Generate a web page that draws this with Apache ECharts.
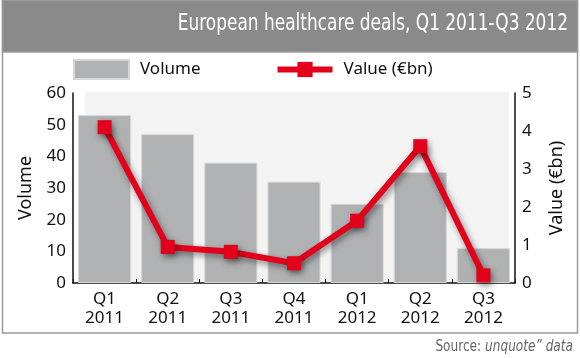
<!DOCTYPE html>
<html><head><meta charset="utf-8">
<script src="https://cdn.jsdelivr.net/npm/echarts@6/dist/echarts.min.js"></script>
<style>html,body{margin:0;padding:0;background:#fff}#c{width:580px;height:358px}</style>
</head><body><div id="c"></div>
<script>
var categories = ['Q1\n2011','Q2\n2011','Q3\n2011','Q4\n2011','Q1\n2012','Q2\n2012','Q3\n2012'];
var volume = [53, 47, 38, 32, 25, 35, 11];
var valueBn = [4.1, 0.95, 0.82, 0.52, 1.64, 3.6, 0.2];
var leftTicks = [0, 10, 20, 30, 40, 50, 60];
var rightTicks = [0, 1, 2, 3, 4, 5];

var FONT = '"Noto Sans", sans-serif';
var NARROW = '"DejaVu Sans Condensed", sans-serif';
var chart = echarts.init(document.getElementById('c'), null, {renderer:'canvas'});
chart.setOption({
  animation: false,
  graphic: [
    {type:'rect', shape:{x:2.5,y:0.5,width:575,height:332.5}, style:{fill:'#fff', stroke:'#9a9a9a', lineWidth:1.5}, z:-10},
    {type:'rect', shape:{x:2.5,y:0.5,width:575,height:51.5}, style:{fill:'#8a8a8b', stroke:'#9a9a9a', lineWidth:1.5}, z:-9},
    {type:'text', x:568, y:13, scaleX:0.82, style:{x:0, y:0, textAlign:'right', text:'European healthcare deals, Q1 2011-Q3 2012', fill:'#fff', font:'23px ' + NARROW}},
    {type:'rect', shape:{x:85,y:92,width:424,height:191}, style:{fill:'#f3f3f3'}, z:-5},
    {type:'text', x:573, y:340, scaleX:0.9, style:{x:0, y:0, textAlign:'right', rich:{a:{fill:'#666', font:'15px ' + NARROW}, b:{fill:'#666', font:'italic 15px ' + NARROW}}, text:'{a|Source: }{b|unquote\u201d data}'}}
  ],
  legend: {
    left: 73, top: 59, padding: 0, itemWidth: 55, itemHeight: 19, itemGap: 74,
    textStyle: {fontFamily: FONT, fontSize: 17, color:'#111', padding:[0,0,0,6]},
    data: [
      {name:'Volume', icon:'rect'},
      {name:'Value (\u20acbn)', lineStyle:{width:6, color:'#e2001a'}}
    ]
  },
  grid: {left:73, right:65, top:93, bottom:75},
  xAxis: {
    type:'category', data: categories,
    axisLine:{lineStyle:{color:'#111', width:1.5}},
    axisTick:{show:true, inside:true, length:4, lineStyle:{color:'#111'}},
    axisLabel:{fontFamily:FONT, fontSize:17, color:'#111', lineHeight:19, margin:7}
  },
  yAxis: [
    {type:'value', min:0, max:60, interval:10, name:'Volume', nameLocation:'middle', nameGap:38, nameRotate:90,
     nameTextStyle:{fontFamily:FONT, fontSize:18, color:'#111'},
     axisLine:{show:true, lineStyle:{color:'#111', width:1.5}}, axisTick:{show:false}, splitLine:{show:false},
     axisLabel:{fontFamily:FONT, fontSize:17, color:'#111', margin:7, formatter:function(v){return leftTicks.indexOf(v)>=0?String(v):'';}}},
    {type:'value', min:0, max:5, interval:1, name:'Value (\u20acbn)', nameLocation:'middle', nameGap:33, nameRotate:90,
     nameTextStyle:{fontFamily:FONT, fontSize:18, color:'#111'},
     axisLine:{show:true, lineStyle:{color:'#111', width:1.5}}, axisTick:{show:false}, splitLine:{show:false},
     axisLabel:{fontFamily:FONT, fontSize:17, color:'#111', margin:7, formatter:function(v){return rightTicks.indexOf(v)>=0?String(v):'';}}}
  ],
  series: [
    {name:'Volume', type:'bar', data: volume, barCategoryGap:'16%', yAxisIndex:0,
     itemStyle:{color:'#b0b1b3', borderColor:'#d6d6d6', borderWidth:1}},
    {name:'Value (\u20acbn)', type:'line', data: valueBn, yAxisIndex:1,
     symbol:'rect', symbolSize:14,
     lineStyle:{color:'#e2001a', width:6, shadowColor:'rgba(0,0,0,0.45)', shadowBlur:6, shadowOffsetX:2, shadowOffsetY:3},
     itemStyle:{color:'#e2001a', shadowColor:'rgba(0,0,0,0.45)', shadowBlur:6, shadowOffsetX:2, shadowOffsetY:3}}
  ]
});
</script></body></html>
